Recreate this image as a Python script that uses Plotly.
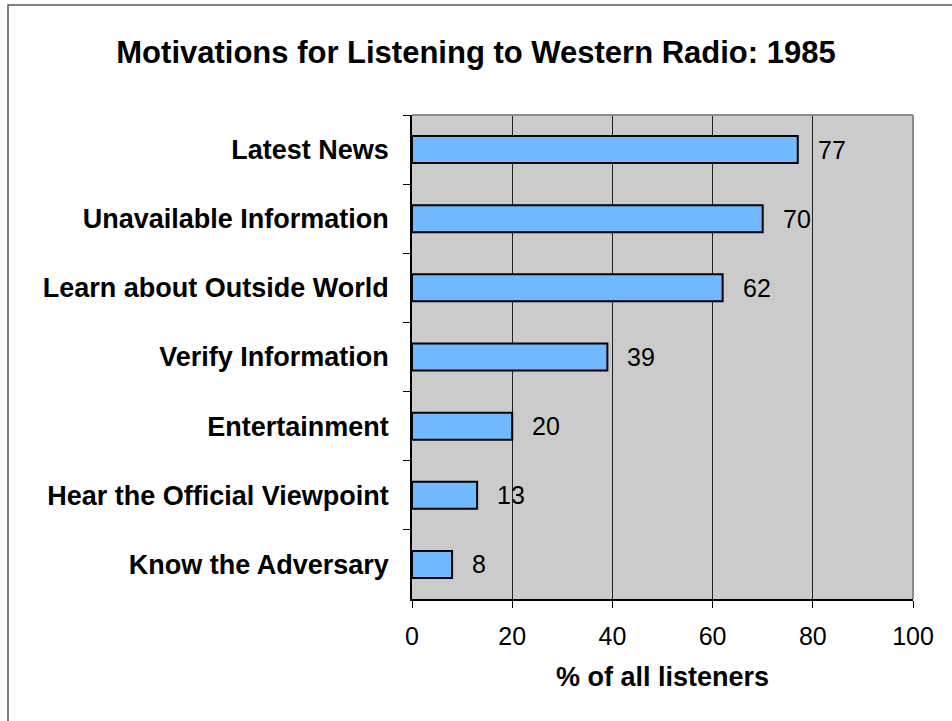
import plotly.graph_objects as go

# Survey results: share of listeners citing each motivation
categories = [
    "Latest News",
    "Unavailable Information",
    "Learn about Outside World",
    "Verify Information",
    "Entertainment",
    "Hear the Official Viewpoint",
    "Know the Adversary",
]
percent = [77, 70, 62, 39, 20, 13, 8]
x_ticks = [0, 20, 40, 60, 80, 100]

FONT = "Liberation Sans, Arial, sans-serif"
W, H = 952, 721
L, R, T, B = 412, 39, 115, 122

fig = go.Figure()
fig.add_trace(go.Bar(
    x=percent,
    y=categories,
    orientation="h",
    width=0.39,
    marker=dict(color="#70B8FF", line=dict(color="black", width=2)),
    hoverinfo="x+y",
))

# value labels to the right of each bar
for cat, val in zip(categories, percent):
    fig.add_annotation(
        x=val, y=cat, text=str(val), showarrow=False,
        xanchor="left", yanchor="middle", xshift=18,
        font=dict(family=FONT, size=25, color="black"),
    )

# light frame on the top and right of the plotting area
fig.add_shape(type="line", xref="paper", yref="paper", x0=0, x1=1, y0=1, y1=1,
              line=dict(color="#8C8C8C", width=2))
fig.add_shape(type="line", xref="paper", yref="paper", x0=1, x1=1, y0=0, y1=1,
              line=dict(color="#8C8C8C", width=2))

# outer chart border
pw, ph = W - L - R, H - T - B
fig.add_shape(type="rect", xref="paper", yref="paper",
              x0=(8 - L) / pw, x1=(W + 20 - L) / pw,
              y0=(H - B - (H + 20)) / ph, y1=(H - B - 5) / ph,
              line=dict(color="#555555", width=1.5), layer="below")

fig.update_layout(
    width=W, height=H,
    margin=dict(l=L, r=R, t=T, b=B),
    paper_bgcolor="white",
    plot_bgcolor="#CBCBCB",
    showlegend=False,
    title=dict(
        text="<b>Motivations for Listening to Western Radio: 1985</b>",
        x=0.5, xanchor="center", y=1 - 52 / H, yanchor="middle",
        font=dict(family=FONT, size=31, color="black"),
    ),
    xaxis=dict(
        range=[0, 100], tickvals=x_ticks,
        ticks="outside", ticklen=7, tickcolor="black", tickwidth=1,
        showgrid=True, gridcolor="#222222", gridwidth=1,
        showline=True, linecolor="black", linewidth=1.5,
        zeroline=False,
        ticklabelstandoff=7,
        tickfont=dict(family=FONT, size=25, color="black"),
        title=dict(text="<b>% of all listeners</b>", standoff=18,
                   font=dict(family=FONT, size=27, color="black")),
    ),
    yaxis=dict(
        type="category", autorange="reversed",
        tickson="boundaries",
        ticks="outside", ticklen=7, tickcolor="black", tickwidth=1,
        showgrid=False,
        showline=True, linecolor="black", linewidth=1.5,
        ticklabelstandoff=16,
        tickfont=dict(family=FONT, size=27, color="black", weight="bold"),
    ),
)

fig.write_html("out.html")
